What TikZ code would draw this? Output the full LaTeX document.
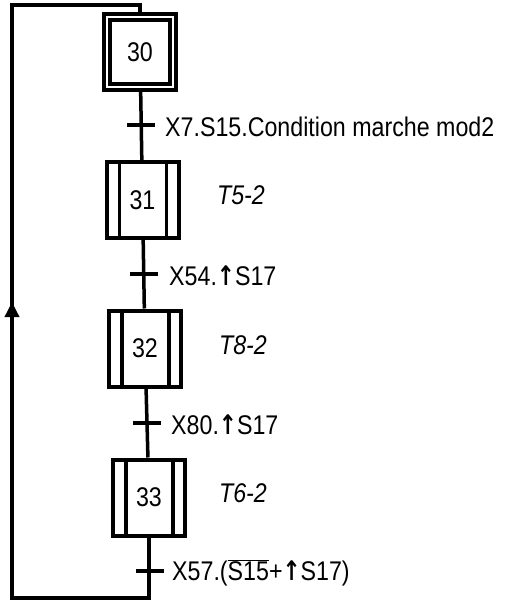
\documentclass[tikz,border=0pt]{standalone}
\usepackage{fontspec}
\setmainfont[FakeStretch=0.86]{Liberation Sans}
\newfontfamily\upfnt[FakeStretch=0.8]{DejaVu Sans}
\usetikzlibrary{arrows.meta}
\newcommand{\up}{{\upfnt\bfseries ↑}}
\tikzset{
  initbox/.style={draw, line width=4pt, double, double distance=1.5pt, minimum width=66pt, minimum height=70pt, inner sep=0pt},
  stepbox/.style={draw, line width=4pt, minimum width=72pt, minimum height=76pt, inner sep=0pt,
    path picture={
      \draw[line width=3.5pt] ([xshift=13pt]path picture bounding box.north west) -- ([xshift=13pt]path picture bounding box.south west);
      \draw[line width=3.5pt] ([xshift=-12pt]path picture bounding box.north east) -- ([xshift=-12pt]path picture bounding box.south east);}},
  tick/.style={fill, minimum width=28pt, minimum height=3.5pt, inner sep=0pt, outer sep=0pt},
  cond/.style={anchor=west, inner sep=0pt},
  act/.style={font=\fontsize{27}{30}\selectfont\itshape, inner sep=0pt},
  link/.style={line width=3.5pt},
}

\begin{document}
\begin{tikzpicture}[x=1pt,y=-1pt,font=\fontsize{27}{30}\selectfont]
\useasboundingbox (0,0) rectangle (512,604);
\node[initbox] (s30) at (140,52) {30};
\node[stepbox] (s31) at (142.5,200) {31};
\node[stepbox] (s32) at (145,348.5) {32};
\node[stepbox] (s33) at (149,497.5) {33};
\draw[link] (s30) -- (s31);
\draw[link] (s31) -- (s32);
\draw[link] (s32) -- (s33);
\coordinate (lt) at (12,5);
\coordinate (lb) at (12,598);
\coordinate (arr) at (12,302);
\draw[link, line join=miter] (s33) -- (s33 |- lb) -- (lb) -- (lt) -- (s30 |- lt) -- (s30);
\draw[link, -{Triangle[length=15pt,width=14pt]}] (lb) -- (arr);
\node[tick] (t1) at (141,125) {};
\node[tick] (t2) at (144,274) {};
\node[tick] (t3) at (147,423) {};
\node[tick] (t4) at (150,571) {};
\node[cond] (c1) at (165,127) {X7.S15.Condition marche mod2};
\node[cond] (c2) at (169,276) {X54.\up S17};
\node[cond] (c3) at (171,425) {X80.\up S17};
\node[cond] (c4) at (172,573) {X57.($\overline{\hbox{S15}}$+\up S17)};
\node[act] (a31) at (241,195) {T5-2};
\node[act] (a32) at (243,345) {T8-2};
\node[act] (a33) at (243,493) {T6-2};
\end{tikzpicture}
\end{document}
